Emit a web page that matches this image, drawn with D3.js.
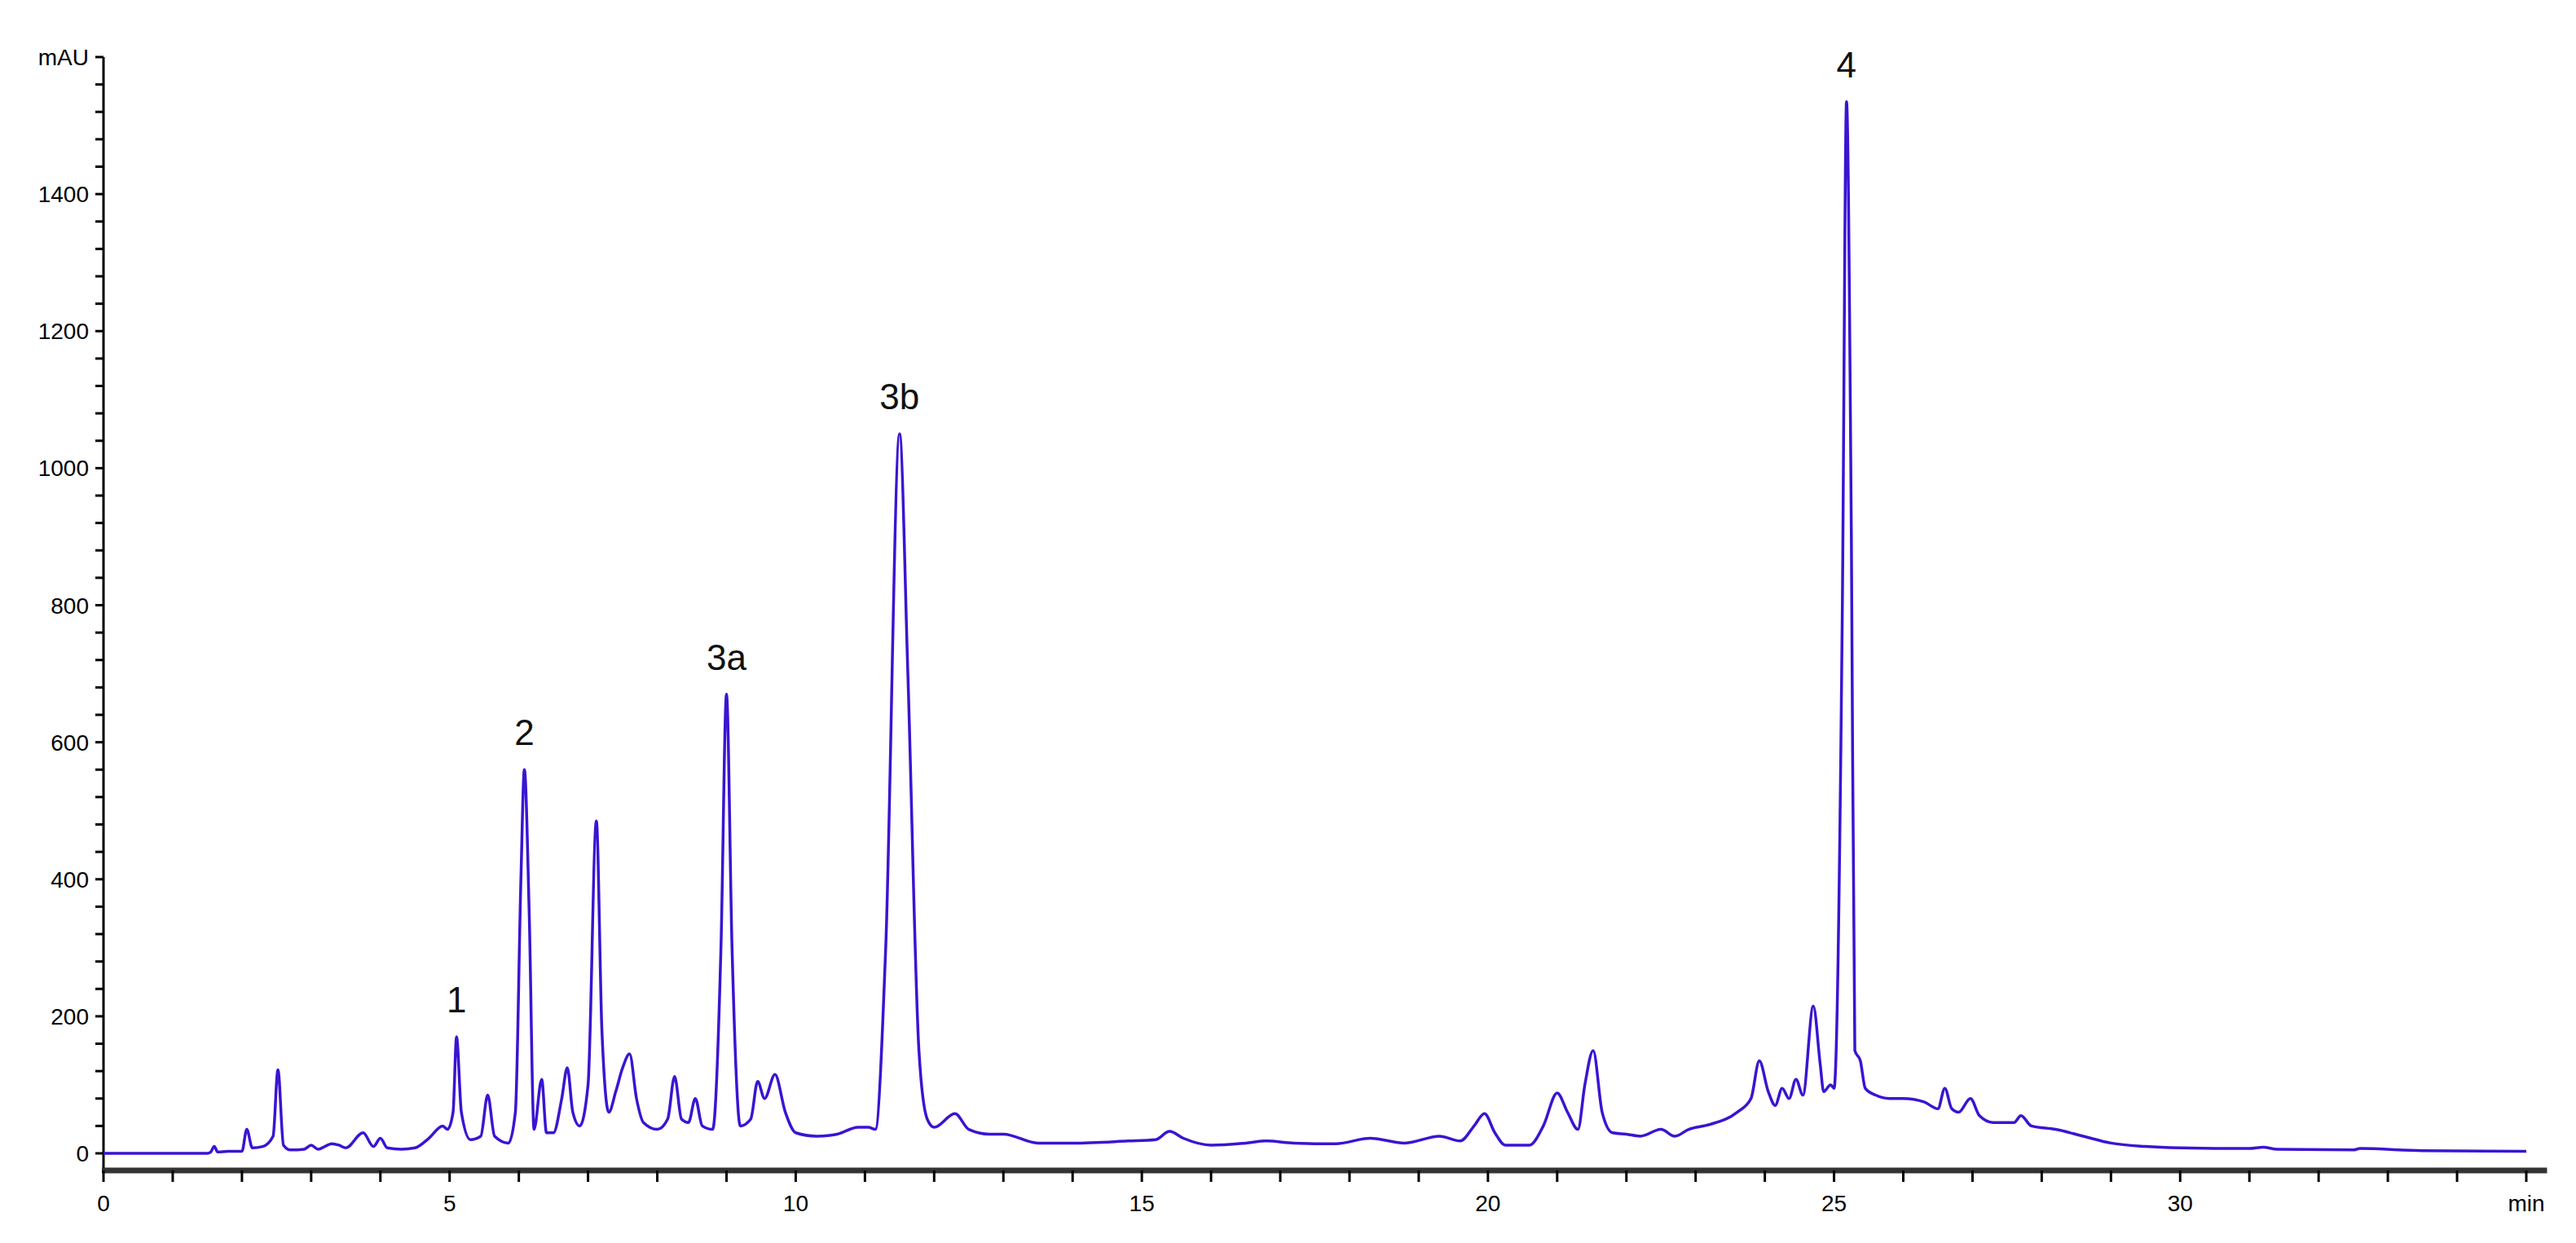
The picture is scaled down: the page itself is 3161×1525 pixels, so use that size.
<!DOCTYPE html>
<html><head><meta charset="utf-8">
<script src="https://cdn.jsdelivr.net/npm/d3@7/dist/d3.min.js"></script>
<style>body{margin:0;background:#fff}text{font-family:"Liberation Sans",Arial,sans-serif}</style>
</head><body><svg id="c" width="3161" height="1525"></svg>
<script>
const times=[0,1.5,1.55,1.6,1.65,1.8,2.0,2.07,2.15,2.3,2.45,2.52,2.6,2.7,2.9,3.0,3.1,3.3,3.4,3.5,3.75,3.9,4.0,4.1,4.3,4.5,4.7,4.9,4.97,5.05,5.1,5.17,5.3,5.45,5.55,5.65,5.85,5.95,6.03,6.08,6.15,6.22,6.33,6.4,6.5,6.62,6.7,6.78,6.88,7.0,7.12,7.2,7.3,7.4,7.5,7.6,7.7,7.8,8.0,8.15,8.25,8.35,8.45,8.55,8.65,8.8,8.92,9.0,9.08,9.2,9.35,9.45,9.55,9.7,9.85,10.0,10.3,10.6,10.9,11.05,11.15,11.3,11.5,11.62,11.78,11.9,12.0,12.3,12.5,12.8,13.0,13.5,14.0,14.8,15.2,15.4,15.6,16.0,16.5,16.8,17.2,17.8,18.3,18.8,19.3,19.6,19.8,19.95,20.1,20.25,20.6,20.8,21.0,21.15,21.3,21.4,21.52,21.65,21.8,22.0,22.2,22.5,22.7,22.9,23.2,23.6,23.8,23.92,24.05,24.15,24.25,24.35,24.45,24.55,24.7,24.8,24.85,24.95,25.0,25.12,25.18,25.25,25.3,25.38,25.45,25.6,25.8,26.0,26.3,26.5,26.6,26.7,26.8,26.97,27.1,27.3,27.6,27.7,27.85,28.2,28.6,29.0,29.5,30.0,31.0,31.2,31.4,32.5,32.6,33.5,35.0];
const mAU=[0,0,2,10,2,3,3,35,8,10,25,122,12,5,6,12,6,14,12,8,30,10,22,8,6,8,22,40,35,60,170,60,20,25,85,25,15,60,400,560,350,35,108,30,30,80,125,60,40,100,485,180,60,90,125,145,80,45,35,50,112,50,45,80,40,35,300,670,300,40,50,105,80,115,60,30,25,28,38,38,35,300,1050,700,150,50,38,58,35,28,28,15,15,18,20,32,22,12,15,18,15,14,22,15,25,18,40,58,30,12,12,40,88,60,35,100,150,60,30,28,25,35,25,35,42,60,80,135,90,70,95,80,108,85,215,130,90,100,95,800,1535,900,150,135,95,85,80,80,75,65,95,65,60,80,55,45,45,55,40,35,25,15,10,8,7,9,6,5,7,4,3];
const peakLabels=["1","2","3a","3b","4"];
const peakTimes=[5.1,6.08,9.0,11.5,25.18];
const peakHeights=[170,560,670,1050,1535];
const yTickValues=[0,200,400,600,800,1000,1200,1400];
const xTickValues=[0,5,10,15,20,25,30];

const svg=d3.select("#c");
const x=d3.scaleLinear().domain([0,35]).range([127,3100]);
const y=d3.scaleLinear().domain([0,1600]).range([1415,70]);
const col="#3a14d2";
// y axis
const yMin=-28;
svg.append("line").attr("x1",x(0)).attr("x2",x(0)).attr("y1",y(1600)).attr("y2",y(yMin)).attr("stroke","#000").attr("stroke-width",3);
svg.selectAll(".ymt").data(d3.range(0,1601,40)).enter().append("line")
 .attr("x1",x(0)-10).attr("x2",x(0)).attr("y1",d=>y(d)).attr("y2",d=>y(d)).attr("stroke","#000").attr("stroke-width",3);
svg.selectAll(".yl").data(yTickValues).enter().append("text").attr("x",x(0)-18).attr("y",d=>y(d)+10)
 .attr("text-anchor","end").attr("font-size",28).text(d=>d);
svg.append("text").attr("x",x(0)-18).attr("y",y(1600)+10).attr("text-anchor","end").attr("font-size",28).text("mAU");
// x axis
const axY=1436;
svg.append("line").attr("x1",x(0)-2).attr("x2",x(35.3)).attr("y1",axY).attr("y2",axY).attr("stroke","#333").attr("stroke-width",7);
svg.selectAll(".xmt").data(d3.range(0,36,1)).enter().append("line")
 .attr("x1",d=>x(d)).attr("x2",d=>x(d)).attr("y1",axY).attr("y2",axY+14).attr("stroke","#000").attr("stroke-width",3);
svg.selectAll(".xl").data(xTickValues).enter().append("text").attr("x",d=>x(d)).attr("y",axY+50)
 .attr("text-anchor","middle").attr("font-size",28).text(d=>d);
svg.append("text").attr("x",x(35)).attr("y",axY+50).attr("text-anchor","middle").attr("font-size",28).text("min");
// line
const data=times.map((t,i)=>[t,mAU[i]]);
svg.append("path").datum(data).attr("fill","none").attr("stroke",col).attr("stroke-width",3.5)
 .attr("d",d3.line().x(d=>x(d[0])).y(d=>y(d[1])).curve(d3.curveMonotoneX));
svg.selectAll(".pl").data(peakLabels).enter().append("text")
 .attr("x",(d,i)=>x(peakTimes[i])).attr("y",(d,i)=>y(peakHeights[i])-30)
 .attr("text-anchor","middle").attr("font-size",44).attr("fill","#111").text(d=>d);
</script></body></html>
